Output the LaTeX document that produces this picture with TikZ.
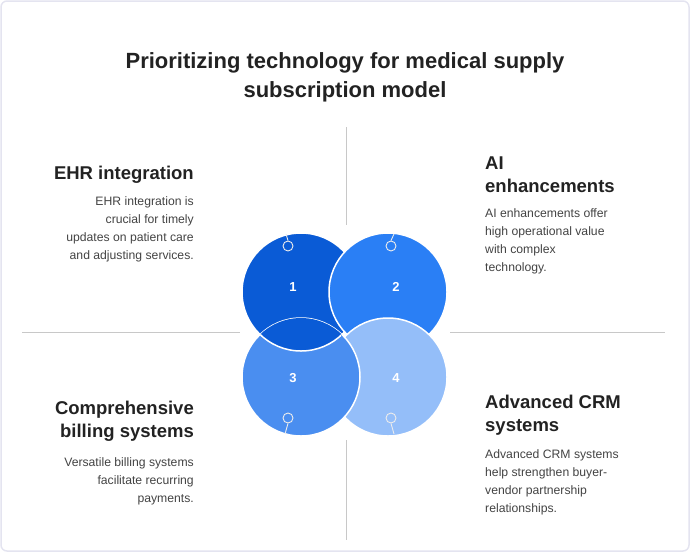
\documentclass[tikz,border=0pt]{standalone}
\usepackage{fontspec}
\setmainfont{Liberation Sans}
\definecolor{cA}{HTML}{0A5BD6}
\definecolor{cB}{HTML}{2A7FF5}
\definecolor{cC}{HTML}{4A8EF0}
\definecolor{cD}{HTML}{94BEF9}
\definecolor{frame}{HTML}{E4E4F0}
\definecolor{sep}{HTML}{C8C8C8}
\definecolor{txt}{HTML}{222222}
\begin{document}
\begin{tikzpicture}[x=1pt,y=-1pt,
  circ/.style={circle,draw=white,line width=1.5pt,minimum size=118pt,inner sep=0pt},
  num/.style={text=white,font=\fontsize{13}{15}\selectfont\bfseries},
  knob/.style={draw=white!85!gray,line width=0.9pt},
  head/.style={font=\fontsize{18.5}{23}\selectfont\bfseries,text=txt,inner sep=0pt},
  body/.style={font=\fontsize{12.2}{18}\selectfont,text=txt!85!white,inner sep=0pt}]
\useasboundingbox (0,0) rectangle (690,552);
\draw[frame,line width=1.5pt,rounded corners=6pt] (1,1) rectangle (689,551);
\node[font=\fontsize{22}{29}\selectfont\bfseries,align=center,text=txt] (title) at (345,77) {Prioritizing technology for medical supply\\subscription model};
\coordinate (vt1) at (346,127); \coordinate (vt2) at (346,225);
\coordinate (vb1) at (346,440); \coordinate (vb2) at (346,540);
\coordinate (hl1) at (22,332); \coordinate (hl2) at (240,332);
\coordinate (hr1) at (450,332); \coordinate (hr2) at (665,332);
\draw[sep] (vt1)--(vt2) (vb1)--(vb2) (hl1)--(hl2) (hr1)--(hr2);
\node[circ,fill=cA] (c1) at (301,292) {};
\node[circ,fill=cB] (c2) at (388,292) {};
\node[circ,fill=cD] (c4) at (388,377) {};
\node[circ,fill=cC] (c3) at (301,377) {};
\begin{scope}
\clip (301,377) circle (59);
\clip (200,200) rectangle (341,400);
\fill[cA,draw=white,line width=1.5pt] (301,292) circle (59);
\end{scope}
\node[num] (n1) at (293,287) {1};
\node[num] (n2) at (396,287) {2};
\node[num] (n3) at (293,378) {3};
\node[num] (n4) at (396,378) {4};
\node[knob,circle,inner sep=0pt,minimum size=10pt] (k1) at (288,246) {};
\node[knob,circle,inner sep=0pt,minimum size=10pt] (k2) at (391,246) {};
\node[knob,circle,inner sep=0pt,minimum size=10pt] (k3) at (288,418) {};
\node[knob,circle,inner sep=0pt,minimum size=10pt] (k4) at (391,418) {};
\coordinate (e1) at (286,234); \coordinate (e2) at (394,234);
\coordinate (e3) at (285,434); \coordinate (e4) at (394,434);
\draw[knob] (k1.north)--(e1) (k2.north)--(e2) (k3.south)--(e3) (k4.south)--(e4);
\node[head,anchor=east] (h1) at (194,175) {EHR integration};
\node[body,anchor=north east,align=right] (b1) at (194,196) {EHR integration is\\crucial for timely\\updates on patient care\\and adjusting services.};
\node[head,anchor=west,align=left] (h2) at (485,175) {AI\\enhancements};
\node[body,anchor=north west,align=left] (b2) at (485,208) {AI enhancements offer\\high operational value\\with complex\\technology.};
\node[head,anchor=east,align=right] (h3) at (194,421) {Comprehensive\\billing systems};
\node[body,anchor=north east,align=right] (b3) at (194,457) {Versatile billing systems\\facilitate recurring\\payments.};
\node[head,anchor=west,align=left] (h4) at (485,415) {Advanced CRM\\systems};
\node[body,anchor=north west,align=left] (b4) at (485,449) {Advanced CRM systems\\help strengthen buyer-\\vendor partnership\\relationships.};
\end{tikzpicture}
\end{document}
